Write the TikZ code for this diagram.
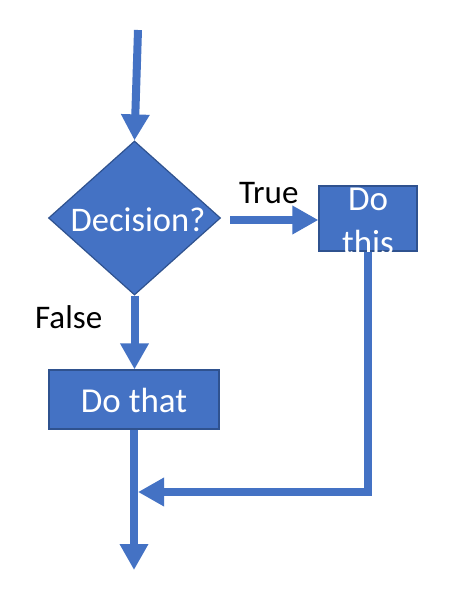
\documentclass[tikz,border=0pt]{standalone}
\usepackage{fontspec}
\setmainfont{Carlito}
\usetikzlibrary{arrows.meta,shapes.geometric}
\definecolor{office}{HTML}{4472C4}
\definecolor{officedark}{HTML}{2F528F}
\begin{document}
\begin{tikzpicture}[x=1pt,y=-1pt,
  flow/.style={draw=office,line width=8pt,-{Triangle[length=26pt,width=27pt]}},
  shapebox/.style={draw=officedark,fill=office,line width=1.2pt,rectangle,inner sep=0pt},
  decisionbox/.style={draw=officedark,fill=office,line width=1.2pt,diamond,inner sep=0pt,minimum width=172pt,minimum height=154pt},
  wtext/.style={text=white,font=\fontsize{35}{42}\selectfont,inner sep=0pt},
  btext/.style={text=black,font=\fontsize{33}{38}\selectfont,inner sep=0pt,anchor=base west}]
\useasboundingbox[fill=white] (0,0) rectangle (450,595);
% shapes
\node[decisionbox] (dec) at (134.5,218) {};
\node[wtext,font=\fontsize{34.5}{40}\selectfont] (dectext) at (138,220) {Decision?};
\node[shapebox,minimum width=98pt,minimum height=65pt] (this) at (368,218.5) {};
\node[wtext,anchor=base] (thisa) at (368,210) {Do};
\node[wtext,anchor=base] (thisb) at (368,254) {this};
\node[shapebox,minimum width=170pt,minimum height=59pt] (that) at (134,399.5) {};
\node[wtext] (thattext) at (134,400) {Do that};
% labels
\node[btext] (truelbl) at (239,203) {True};
\node[btext] (falselbl) at (35,328) {False};
% coordinates
\coordinate (start) at (138,30);
\coordinate (tstart) at (230,220);
\coordinate (ret) at (138,492);
\coordinate (endpt) at (134,570);
% connectors
\draw[flow] (start) -- (dec.north);
\draw[flow] (tstart) -- (tstart -| this.west);
\draw[flow] (dec.south) -- (dec.south |- that.north);
\draw[flow] (that.south) -- (endpt);
\draw[flow] (this.south) -- (this.south |- ret) -- (ret);
\end{tikzpicture}
\end{document}
